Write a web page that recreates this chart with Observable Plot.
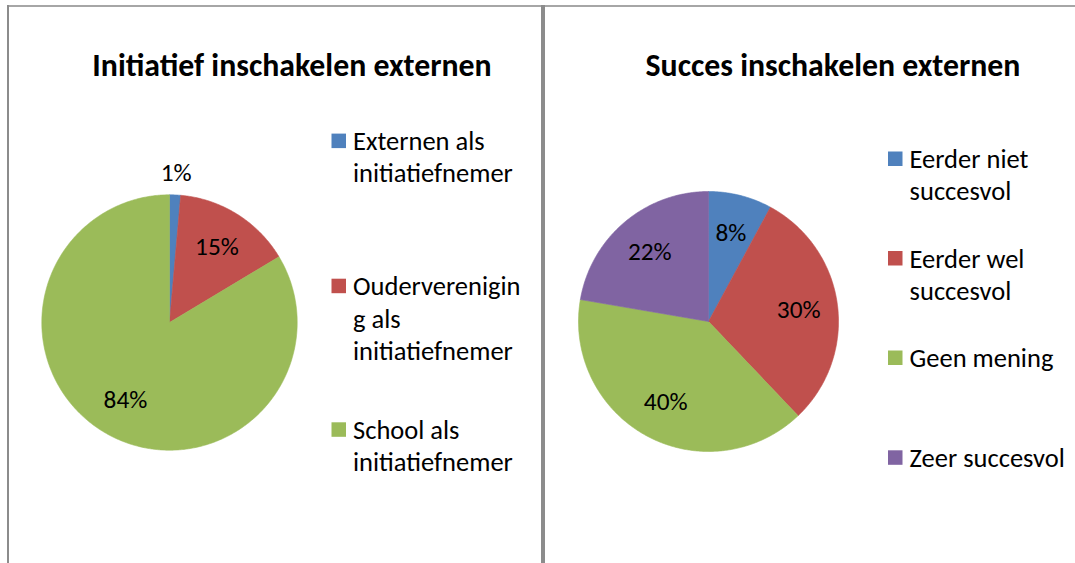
<!DOCTYPE html>
<html><head><meta charset="utf-8">
<script src="https://cdn.jsdelivr.net/npm/d3@7"></script>
<script src="https://cdn.jsdelivr.net/npm/@observablehq/plot@0.6"></script>
<style>
body{margin:0;background:#fff;}
#page{position:relative;width:1075px;height:563px;overflow:hidden;background:#fff;font-family:Carlito,Lato,sans-serif;}
.abs{position:absolute;}
.line{position:absolute;background:#8c8c8c;}
</style></head><body><div id="page"></div>
<script>
// ---- data ----
const chart1Title = "Initiatief inschakelen externen";
const chart1Categories = ["Externen als initiatiefnemer", "Oudervereniging als initiatiefnemer", "School als initiatiefnemer"];
const chart1LegendLines = [["Externen als", "initiatiefnemer"], ["Ouderverenigin", "g als", "initiatiefnemer"], ["School als", "initiatiefnemer"]];
const chart1Values = [1.4, 15.0, 83.6];
const chart1Colors = ["#4F81BD", "#C0504D", "#9BBB59"];

const chart2Title = "Succes inschakelen externen";
const chart2Categories = ["Eerder niet succesvol", "Eerder wel succesvol", "Geen mening", "Zeer succesvol"];
const chart2LegendLines = [["Eerder niet", "succesvol"], ["Eerder wel", "succesvol"], ["Geen mening"], ["Zeer succesvol"]];
const chart2Values = [7.9, 30.0, 39.8, 22.3];
const chart2Colors = ["#4F81BD", "#C0504D", "#9BBB59", "#8064A2"];

// ---- layout (positions / styles) ----
const FONT = "Carlito, Lato, sans-serif";
const layout = [
  {cx: 168.7, cy: 322.3, r: 127.7, titleX: 292, titleY: 76, swX: 331.5, textX: 353, legY: [150.1, 295.2, 438.8]},
  {cx: 707.8, cy: 321.1, r: 130, titleX: 833, titleY: 76, swX: 888, textX: 909.6, legY: [168, 267.5, 367, 466.8]}
];
const lineH = 32.3, legendSize = 26.5, titleSize = 31.8, labelSize = 25.3, swSize = 14.5;

const page = document.getElementById("page");

function piePlot(cats, values, colors, L) {
  const total = d3.sum(values);
  const S = 175;
  const pts = [], labels = [];
  let acc = 0;
  cats.forEach((c, i) => {
    const a0 = acc / total * 2 * Math.PI; acc += values[i];
    const a1 = acc / total * 2 * Math.PI;
    pts.push({cat: c, x: 0, y: 0});
    const n = Math.max(2, Math.ceil((a1 - a0) / (Math.PI / 360)));
    for (let k = 0; k <= n; k++) {
      const a = a0 + (a1 - a0) * k / n;
      pts.push({cat: c, x: Math.sin(a), y: Math.cos(a)});
    }
    pts.push({cat: c, x: 0, y: 0});
    const am = (a0 + a1) / 2;
    const share = values[i] / total * 100;
    const rr = share < 3 ? 1.175 : 0.70;
    labels.push({x: rr * Math.sin(am), y: rr * Math.cos(am), text: Math.round(values[i]) + "%"});
  });
  const d = S / L.r;
  const svg = Plot.plot({
    width: 2 * S, height: 2 * S, margin: 0,
    x: {domain: [-d, d], axis: null},
    y: {domain: [-d, d], axis: null},
    color: {domain: cats, range: colors},
    style: {background: "transparent", overflow: "visible", fontFamily: FONT},
    marks: [
      Plot.line(pts, {x: "x", y: "y", z: "cat", fill: "cat", stroke: "cat", strokeWidth: 0.6, curve: "linear"}),
      Plot.text(labels, {x: "x", y: "y", text: "text", fontSize: labelSize, fill: "#000", fontFamily: FONT})
    ]
  });
  svg.classList.add("abs");
  svg.style.left = (L.cx - S) + "px";
  svg.style.top = (L.cy - S) + "px";
  page.appendChild(svg);
}

piePlot(chart1Categories, chart1Values, chart1Colors, layout[0]);
piePlot(chart2Categories, chart2Values, chart2Colors, layout[1]);

// titles and legends overlay
const ov = d3.select(page).append("svg").attr("class", "abs")
  .attr("width", 1075).attr("height", 563).style("left", "0px").style("top", "0px")
  .style("font-family", FONT);

function legend(title, lines, colors, L) {
  ov.append("text").attr("x", L.titleX).attr("y", L.titleY).attr("text-anchor", "middle")
    .attr("font-weight", "bold").attr("font-size", titleSize).attr("fill", "#000").text(title);
  lines.forEach((ls, i) => {
    const y0 = L.legY[i];
    ov.append("rect").attr("x", L.swX).attr("y", y0 - 16.5).attr("width", swSize).attr("height", swSize).attr("fill", colors[i]);
    ls.forEach((t, j) => {
      ov.append("text").attr("x", L.textX).attr("y", y0 + j * lineH).attr("font-size", legendSize).attr("fill", "#000").text(t);
    });
  });
}
legend(chart1Title, chart1LegendLines, chart1Colors, layout[0]);
legend(chart2Title, chart2LegendLines, chart2Colors, layout[1]);

// frame lines
function addLine(l, t, w, h, c) {
  const e = document.createElement("div"); e.className = "line";
  Object.assign(e.style, {left: l + "px", top: t + "px", width: w + "px", height: h + "px", background: c});
  page.appendChild(e);
}
addLine(7, 5, 1068, 2, "#a6a6a6");
addLine(7, 5, 2, 558, "#8c8c8c");
addLine(541, 5, 4, 558, "#8c8c8c");
</script></body></html>
